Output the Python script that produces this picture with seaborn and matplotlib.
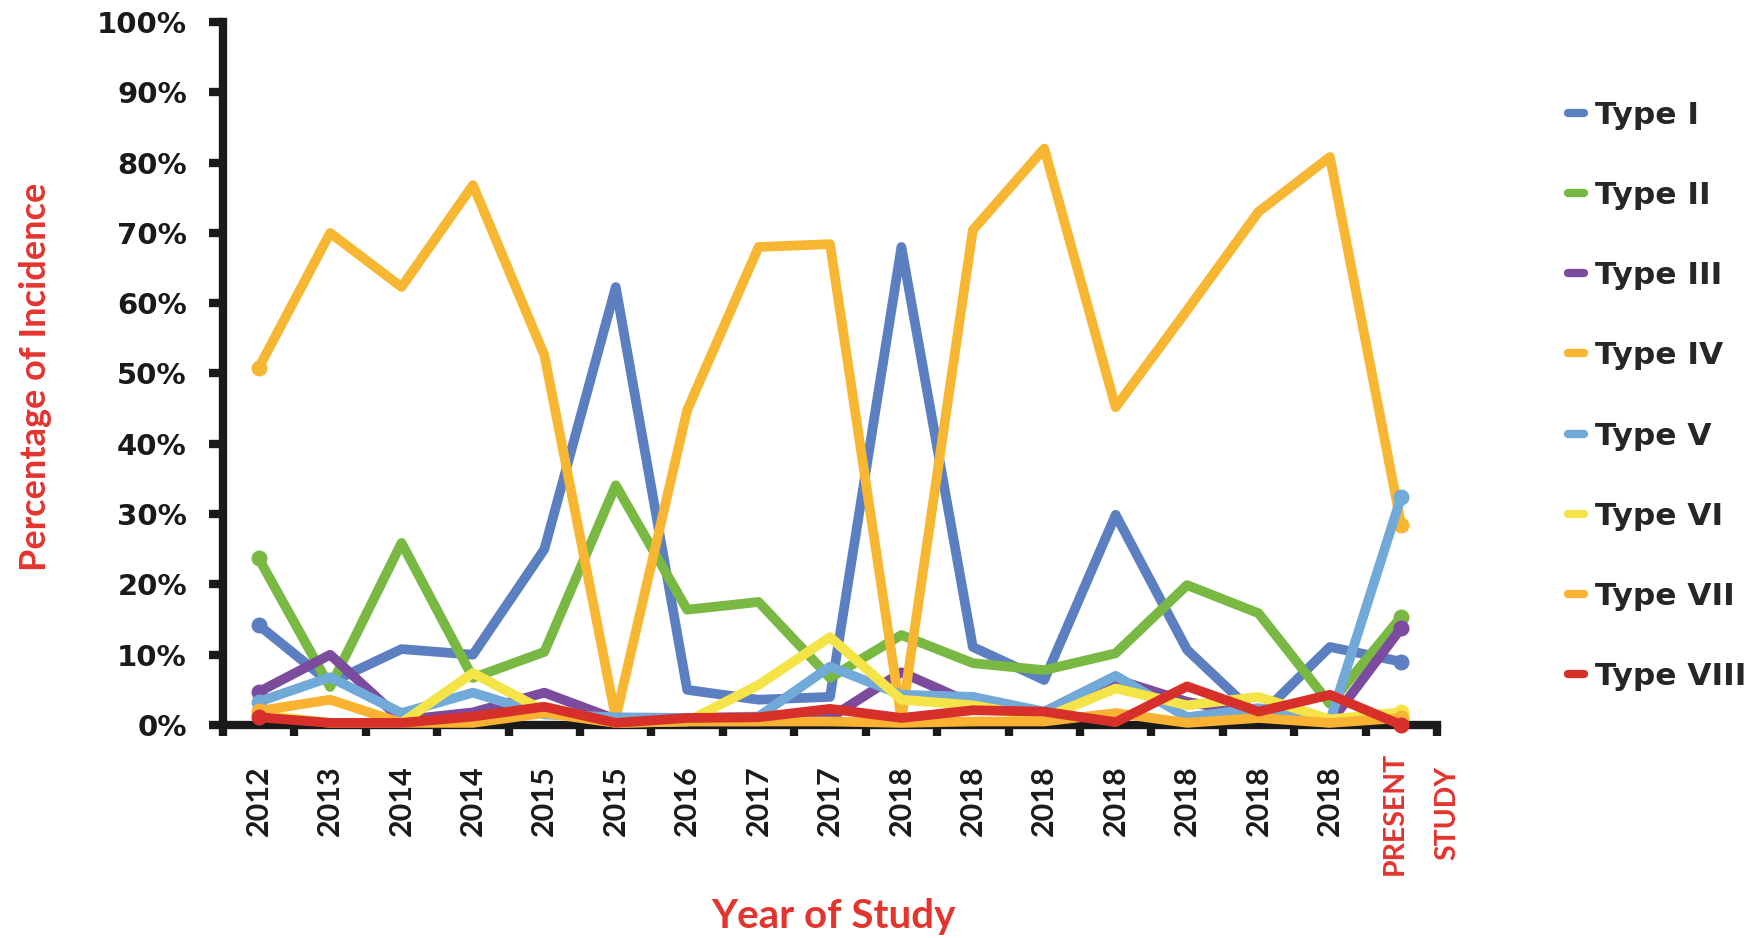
import matplotlib
matplotlib.use("Agg")
import numpy as np
import pandas as pd
import seaborn as sns
import matplotlib.pyplot as plt
from matplotlib.lines import Line2D
from matplotlib.ticker import FixedLocator, FuncFormatter
from matplotlib.transforms import ScaledTranslation

# Study labels along the x axis (one per published series, last is the present study)
studies = ["2012", "2013", "2014", "2014", "2015", "2015", "2016", "2017", "2017",
           "2018", "2018", "2018", "2018", "2018", "2018", "2018", "PRESENT\nSTUDY"]

types = ["Type I", "Type II", "Type III", "Type IV", "Type V", "Type VI", "Type VII", "Type VIII"]

# Percentage of incidence for each type, per study
type_i    = [14.2, 6.0, 10.8, 10.0, 25.0, 62.3, 5.0, 3.6, 4.0, 68.0, 11.1, 6.4, 29.9, 10.7, 1.1, 11.1, 9.0]
type_ii   = [23.7, 5.4, 25.9, 6.7, 10.4, 34.1, 16.4, 17.5, 6.7, 12.8, 8.8, 7.8, 10.2, 19.9, 15.9, 3.0, 15.4]
type_iii  = [4.7, 10.0, 0.7, 1.8, 4.6, 0.8, 0.5, 0.5, 1.0, 7.5, 3.0, 1.0, 6.5, 3.3, 1.5, 0.3, 13.8]
type_iv   = [50.8, 70.0, 62.3, 76.8, 52.6, 1.0, 44.8, 68.0, 68.4, 0.8, 70.4, 82.0, 45.2, 59.0, 73.0, 80.8, 28.4]
type_v    = [3.3, 6.8, 1.7, 4.6, 1.5, 1.1, 1.0, 1.2, 8.3, 4.3, 4.0, 1.9, 7.0, 1.1, 2.4, 0.5, 32.5]
type_vi   = [1.5, 0.3, 0.3, 7.4, 2.0, 0.3, 0.5, 5.7, 12.5, 3.6, 2.8, 1.0, 5.2, 2.8, 4.0, 0.8, 1.8]
type_vii  = [2.0, 3.6, 0.3, 0.3, 1.7, 0.3, 0.5, 0.5, 0.5, 0.3, 0.5, 0.5, 1.7, 0.3, 1.0, 0.3, 1.0]
type_viii = [1.1, 0.3, 0.3, 1.2, 2.6, 0.3, 1.0, 1.1, 2.3, 1.0, 2.1, 1.9, 0.4, 5.5, 1.9, 4.3, 0.0]

colors = ["#5B7FC0", "#78B843", "#7B4B9D", "#F8B732", "#71A9D9", "#F5E448", "#FAB232", "#D7302A"]
label_red = "#E4342E"

series = [type_i, type_ii, type_iii, type_iv, type_v, type_vi, type_vii, type_viii]
df = pd.concat(
    [pd.DataFrame({"study": np.arange(len(studies)), "pct": vals, "type": t})
     for t, vals in zip(types, series)],
    ignore_index=True,
)

sns.set_theme(style="white")
plt.rcParams["font.family"] = ["DejaVu Sans"]

W, H = 1763, 938
fig = plt.figure(figsize=(W / 100, H / 100), dpi=100)
ax = fig.add_axes([223 / W, 1 - 725 / H, (1437 - 223) / W, (725 - 22) / H])

sns.lineplot(data=df, x="study", y="pct", hue="type", hue_order=types,
             palette=dict(zip(types, colors)), estimator=None, sort=False,
             legend=False, linewidth=7, ax=ax)

n = len(studies)
for line in ax.lines:
    line.set_marker("o")
    line.set_markevery([0, n - 1])
    line.set_markersize(11.5)
    line.set_markeredgewidth(0)
    line.set_zorder(3)
    line.set_clip_on(False)
    line.set_solid_joinstyle("round")

ax.set_xlim(-0.5, n - 0.5)
ax.set_ylim(0, 100)

# Axis lines
for side in ("top", "right"):
    ax.spines[side].set_visible(False)
for side in ("left", "bottom"):
    ax.spines[side].set_linewidth(6)
    ax.spines[side].set_color("#1a1a1a")
    ax.spines[side].set_capstyle("projecting")

# Y ticks
ax.yaxis.set_major_locator(FixedLocator(np.arange(0, 101, 10)))
ax.yaxis.set_major_formatter(FuncFormatter(lambda v, p: f"{v:.0f}%"))
ax.tick_params(axis="y", which="major", direction="out", length=10, width=6,
               color="#1a1a1a", pad=16, left=True)
for lab in ax.get_yticklabels():
    lab.set_fontweight("bold")
    lab.set_fontsize(21)
    lab.set_color("#1a1a1a")

# X ticks: labels at category centres, tick marks between categories
ax.set_xticks(np.arange(n))
ax.set_xticklabels(studies)
ax.xaxis.set_minor_locator(FixedLocator(np.arange(-0.5, n, 1.0)))
ax.tick_params(axis="x", which="major", length=0, pad=29, bottom=True)
ax.tick_params(axis="x", which="minor", direction="out", length=8, width=6,
               color="#1a1a1a", bottom=True)
for lab in ax.get_xticklabels():
    lab.set_rotation(90)
    lab.set_fontfamily("Lato")
    lab.set_fontweight("bold")
    lab.set_fontsize(22)
    lab.set_color("#1a1a1a")
    lab.set_va("top")
    lab.set_ha("center")
last = ax.get_xticklabels()[-1]
last.set_color(label_red)
last.set_fontsize(20.5)
last.set_multialignment("center")
last.set_linespacing(2.25)
last.set_transform(last.get_transform() +
                   ScaledTranslation(14 / 72, 10 / 72, fig.dpi_scale_trans))

ax.grid(False)

# Axis titles
ax.set_ylabel("Percentage of Incidence", color=label_red, fontfamily="Lato",
              fontweight="bold", fontsize=26, va="center")
ax.yaxis.set_label_coords((36 - 223) / (1437 - 223), (725 - 377) / (725 - 22))
ax.set_xlabel("Year of Study", color=label_red, fontfamily="Lato",
              fontweight="bold", fontsize=29, va="center")
ax.xaxis.set_label_coords((833 - 223) / (1437 - 223), (725 - 916) / (725 - 22))

# Legend with short line keys
handles = [Line2D([0], [0], color=c, lw=6, solid_capstyle="round") for c in colors]
fig.legend(handles, types, loc="center left", bbox_to_anchor=(1568 / W, 1 - 396 / H),
           bbox_transform=fig.transFigure, frameon=False, borderpad=0, borderaxespad=0,
           handlelength=0.5, handletextpad=0.35, labelspacing=1.64,
           prop={"family": "DejaVu Sans", "weight": "bold", "size": 22.5})

fig.savefig("out.png", dpi=100, facecolor="white")
